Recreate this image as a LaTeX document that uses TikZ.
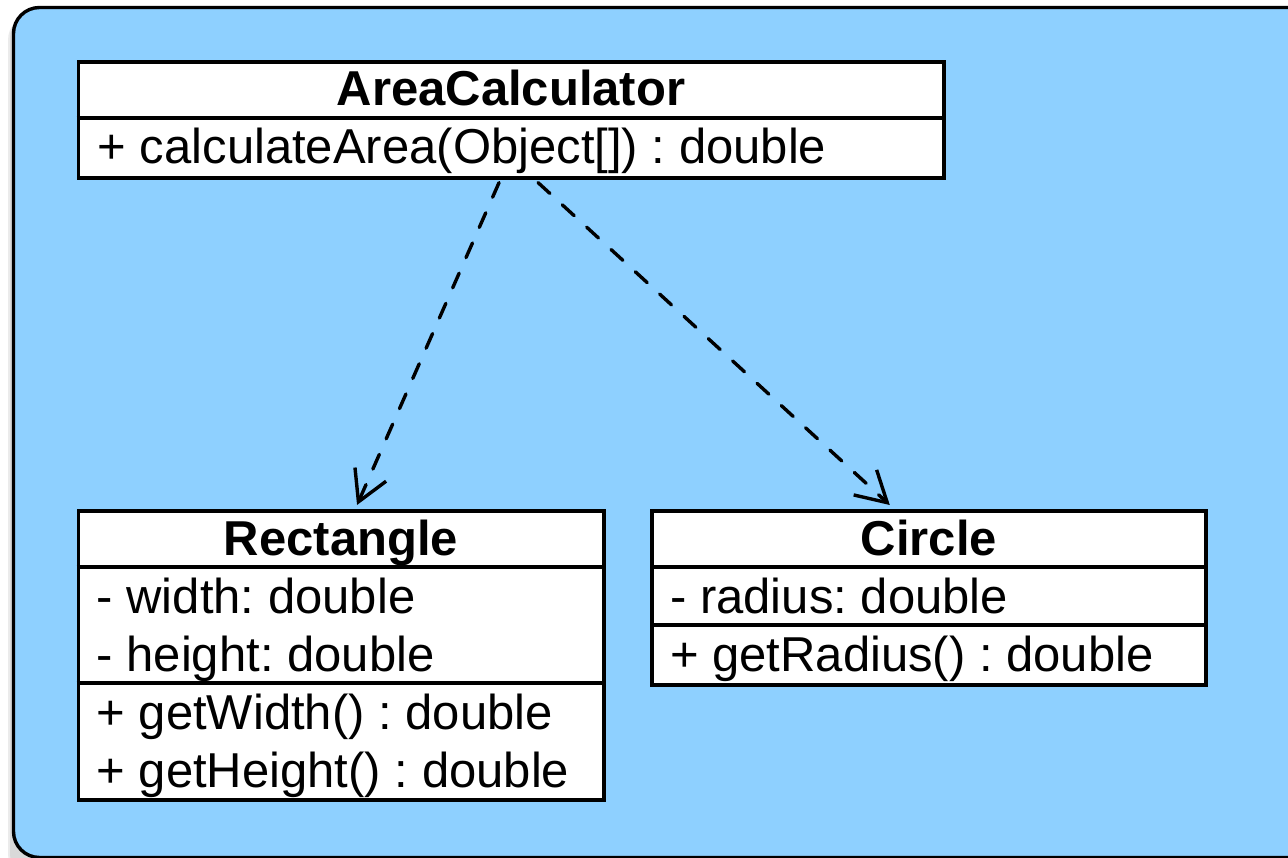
\documentclass[tikz,border=0pt]{standalone}
\usepackage{fontspec}
\setmainfont{Liberation Sans}
\usetikzlibrary{arrows.meta,calc}
\definecolor{bgblue}{RGB}{142,208,255}
\frenchspacing
\tikzset{
  classbox/.style={draw=black, line width=3.6pt, fill=white, inner sep=0pt, anchor=north west},
  divider/.style={draw=black, line width=3.6pt},
  title/.style={font=\fontsize{49}{58}\selectfont\bfseries, inner sep=0pt, anchor=base},
  row/.style={font=\fontsize{49}{58}\selectfont, inner sep=0pt, anchor=base west},
  dep/.style={draw=black, line width=3.4pt, line cap=round, dash pattern=on 16pt off 17pt,
    -{Straight Barb[length=30pt,width=34pt,line width=3.4pt]}},
}
\begin{document}
\begin{tikzpicture}[x=1pt,y=-1pt]
\useasboundingbox (0,0) rectangle (1288,858);
% shadow
\fill[black,opacity=0.08,rounded corners=26pt] (8,14) rectangle (1320,880);
\fill[black,opacity=0.08,rounded corners=26pt] (10,12) rectangle (1320,880);
% background panel
\draw[line width=3.4pt, fill=bgblue, rounded corners=26pt] (13.5,7.5) rectangle (1330,857.5);

% AreaCalculator
\node[classbox, minimum width=865.5pt, minimum height=116pt] (ac) at (76.5,60) {};
\draw[divider] ($(ac.north west)+(0,58)$) -- ($(ac.north east)+(0,58)$);
\node[title] (acT) at ($(ac.north)+(0,46)$) {AreaCalculator};
\node[row] (acM) at ($(ac.north west)+(21,104)$) {+ calculateArea(Object[]) : double};

% Rectangle
\node[classbox, minimum width=525.5pt, minimum height=289pt] (rect) at (76.5,509) {};
\draw[divider] ($(rect.north west)+(0,58)$) -- ($(rect.north east)+(0,58)$);
\draw[divider] ($(rect.north west)+(0,174)$) -- ($(rect.north east)+(0,174)$);
\node[title] (rectT) at ($(rect.north)+(0,46)$) {Rectangle};
\node[row] (rA1) at ($(rect.north west)+(20,104)$) {- width: double};
\node[row] (rA2) at ($(rect.north west)+(20,162)$) {- height: double};
\node[row] (rM1) at ($(rect.north west)+(20,220)$) {+ getWidth() : double};
\node[row] (rM2) at ($(rect.north west)+(20,278)$) {+ getHeight() : double};

% Circle
\node[classbox, minimum width=554pt, minimum height=174pt] (circ) at (650,509) {};
\draw[divider] ($(circ.north west)+(0,58)$) -- ($(circ.north east)+(0,58)$);
\draw[divider] ($(circ.north west)+(0,116)$) -- ($(circ.north east)+(0,116)$);
\node[title] (circT) at ($(circ.north)+(0,46)$) {Circle};
\node[row] (cA1) at ($(circ.north west)+(20,104)$) {- radius: double};
\node[row] (cM1) at ($(circ.north west)+(20,162)$) {+ getRadius() : double};

% dependencies
\draw[dep] ([xshift=-12pt,yshift=-3pt]ac.south) -- ([xshift=16pt,yshift=4pt]rect.north);
\draw[dep] ([xshift=27pt,yshift=-3pt]ac.south) -- ([xshift=-39pt,yshift=4pt]circ.north);
\end{tikzpicture}
\end{document}
